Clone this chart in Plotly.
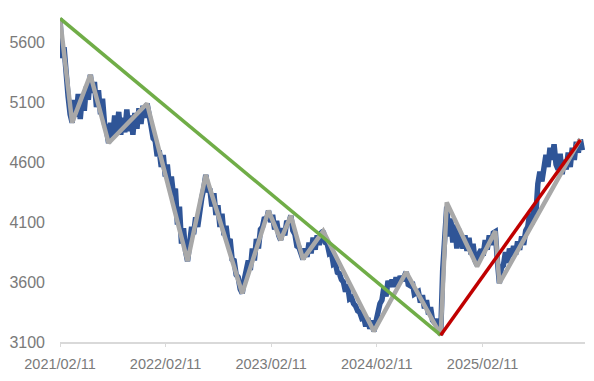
import pandas as pd
import plotly.graph_objects as go

# Weekly index values, starting 2021-02-11
start_date = "2021-02-11"
index_values = [
    5800, 5470, 5560, 5300, 5150, 5000, 4930, 5120, 4980, 5170,
    4960, 5150, 5030, 5230, 5120, 5330, 5180, 5270, 5060, 5200,
    5000, 5130, 4920, 4870, 4760, 4930, 4810, 4990, 4840, 5020,
    4830, 4970, 4850, 5040, 4860, 4990, 4830, 5010, 4880, 5050,
    4920, 5070, 4970, 5090,
    4960, 4900, 4800, 4780, 4650, 4700, 4560, 4660, 4480, 4580,
    4400, 4480, 4330, 4380, 4080, 4230, 3920, 4050, 3860, 3775,
    3920, 4060, 4000, 4140, 4060, 4230, 4300, 4380, 4495, 4350,
    4380, 4230, 4340, 4160, 4240, 4060, 4170, 3990, 4070, 3930,
    3960, 3790, 3780, 3660, 3640, 3540, 3506,
    3620, 3720, 3780, 3700, 3880, 3780, 3960, 3880, 4040, 4060,
    4140, 4120, 4196, 4100, 4160, 4040, 4110, 3990, 3950, 4050,
    3990, 4110, 4090, 4155, 4030, 4000, 3900, 3890, 3820, 3790,
    3880, 3810, 3930, 3840, 3970, 3870, 3990, 3910, 4010, 4025,
    3930, 3920, 3840, 3850, 3750, 3760, 3680, 3670, 3620, 3600,
    3520, 3580, 3460, 3470, 3420, 3400, 3360, 3350, 3300, 3310,
    3230, 3300, 3210, 3280, 3189,
    3270, 3330, 3420, 3450, 3560, 3480, 3610, 3560, 3620, 3560,
    3640, 3580, 3650, 3610, 3660, 3684, 3580, 3570, 3600, 3500,
    3510, 3520, 3430, 3490, 3380, 3450, 3330, 3390, 3280, 3260,
    3290, 3200, 3157, 3700, 4100, 4230, 3980, 4130, 3930, 4080,
    3880, 4040, 3960,
    3880, 3990, 3860, 3970, 3830, 3920, 3780, 3740, 3840, 3870,
    3820, 3950, 3870, 3990, 3910, 4010, 4020, 3780, 3590, 3720,
    3740, 3850, 3760, 3880, 3810, 3900, 3830, 3940, 3870, 3980,
    3910, 4030, 4060, 4170, 4080, 4230, 4160, 4420, 4520, 4440,
    4600, 4660, 4560, 4720, 4620, 4750, 4580, 4540, 4670, 4500,
    4620, 4540, 4680, 4560, 4720, 4620, 4770, 4680, 4790, 4700,
]

# Zigzag (gray) swing points
zig_dates = [
    "2021-02-11", "2021-03-25", "2021-05-27", "2021-07-29", "2021-12-09",
    "2022-04-28", "2022-06-30", "2022-11-03", "2023-02-02", "2023-03-16",
    "2023-04-20", "2023-06-01", "2023-08-10", "2024-02-01", "2024-05-23",
    "2024-09-19", "2024-10-10", "2025-01-23", "2025-03-27", "2025-04-10",
    "2026-01-15",
]
zig_values = [
    5800, 4930, 5330, 4760, 5090,
    3775, 4495, 3506, 4196, 3950,
    4155, 3790, 4025, 3189, 3684,
    3157, 4265, 3730, 4025, 3590,
    4795,
]

# Trend lines
down_dates = ["2021-02-11", "2024-09-19"]
down_values = [5800, 3157]
up_dates = ["2024-09-19", "2026-01-15"]
up_values = [3157, 4785]

tick_dates = ["2021-02-11", "2022-02-11", "2023-02-11", "2024-02-11", "2025-02-11"]
tick_text = ["2021/02/11", "2022/02/11", "2023/02/11", "2024/02/11", "2025/02/11"]
y_ticks = [3100, 3600, 4100, 4600, 5100, 5600]

dates = pd.date_range(start_date, periods=len(index_values), freq="7D")

fig = go.Figure()
fig.add_trace(go.Scatter(x=dates, y=index_values, mode="lines",
                         line=dict(color="#2F5597", width=5.5), hoverinfo="skip"))
fig.add_trace(go.Scatter(x=zig_dates, y=zig_values, mode="lines",
                         line=dict(color="#A8A8A8", width=4.5), hoverinfo="skip"))
fig.add_trace(go.Scatter(x=down_dates, y=down_values, mode="lines",
                         line=dict(color="#70AD47", width=3.5), hoverinfo="skip"))
fig.add_trace(go.Scatter(x=up_dates, y=up_values, mode="lines",
                         line=dict(color="#C00000", width=3.5), hoverinfo="skip"))

fig.update_layout(
    width=594, height=381,
    margin=dict(l=58, r=9, t=10, b=29),
    paper_bgcolor="white", plot_bgcolor="white",
    showlegend=False,
    font=dict(family="Liberation Sans Narrow, Arial Narrow, Liberation Sans", color="#7A7A7A"),
    xaxis=dict(
        type="date",
        range=["2021-02-11", "2026-01-31"],
        tickvals=tick_dates, ticktext=tick_text,
        showgrid=False, zeroline=False,
        showline=True, linecolor="#D9D9D9", linewidth=1.5,
        ticks="outside", ticklen=3, tickcolor="#D9D9D9",
        tickfont=dict(size=14.5),
        ticklabelstandoff=5,
    ),
    yaxis=dict(
        range=[3100, 5870],
        tickvals=y_ticks,
        showgrid=False, zeroline=False, showline=False,
        ticks="", tickfont=dict(size=16),
        ticklabelstandoff=14,
    ),
)

fig.write_html("out.html")
